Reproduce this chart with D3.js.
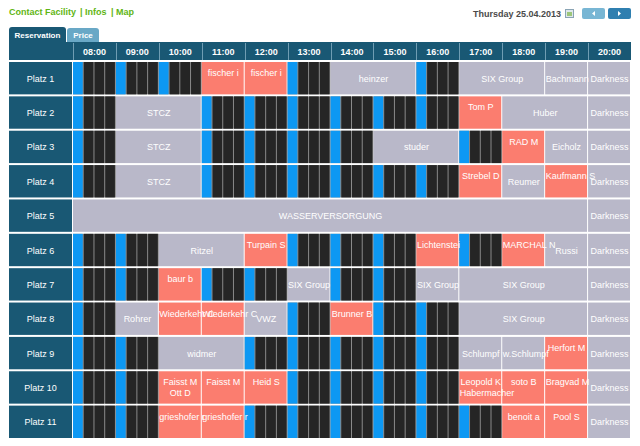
<!DOCTYPE html>
<meta charset="utf-8">
<style>
body { margin: 0; background: #fff; font-family: 'Liberation Sans', Arial, sans-serif; }
svg { display: block; }
.lnk { font-size: 9px; font-weight: bold; fill: #5fb514; }
.date { font-size: 9px; font-weight: bold; fill: #4a4a4a; }
.tab { font-size: 8px; font-weight: bold; fill: #fff; }
.hour { font-size: 9px; font-weight: bold; fill: #fff; }
.court { font-size: 9px; fill: #fff; }
.name { font-size: 9px; fill: #fff; }
</style>
<body>
<div id='plan'></div>
<script src="https://cdnjs.cloudflare.com/ajax/libs/d3/7.8.5/d3.min.js"></script>
<script>
var hours = ["08:00","09:00","10:00","11:00","12:00","13:00","14:00","15:00","16:00","17:00","18:00","19:00","20:00"];
var courts = ["Platz 1","Platz 2","Platz 3","Platz 4","Platz 5","Platz 6","Platz 7","Platz 8","Platz 9","Platz 10","Platz 11"];
var quarters = ["00","15","30","45"];
var darknessHour = "20:00";

// [court, start, hours, name]
var blockBookings = [
  ["Platz 1","14:00",2,"heinzer"],
  ["Platz 1","17:00",2,"SIX Group"],
  ["Platz 1","19:00",1,"Bachmann"],
  ["Platz 2","09:00",2,"STCZ"],
  ["Platz 2","18:00",2,"Huber"],
  ["Platz 3","09:00",2,"STCZ"],
  ["Platz 3","15:00",2,"studer"],
  ["Platz 3","19:00",1,"Eicholz"],
  ["Platz 4","09:00",2,"STCZ"],
  ["Platz 4","18:00",1,"Reumer"],
  ["Platz 5","08:00",12,"WASSERVERSORGUNG"],
  ["Platz 6","10:00",2,"Ritzel"],
  ["Platz 6","19:00",1,"Russi"],
  ["Platz 7","13:00",1,"SIX Group"],
  ["Platz 7","16:00",1,"SIX Group"],
  ["Platz 7","17:00",3,"SIX Group"],
  ["Platz 8","09:00",1,"Rohrer"],
  ["Platz 8","12:00",1,"VWZ"],
  ["Platz 8","17:00",3,"SIX Group"],
  ["Platz 9","10:00",2,"widmer"],
  ["Platz 9","17:00",1,"Schlumpf"],
  ["Platz 9","18:00",1,"w.Schlumpf"]
];

var memberBookings = [
  ["Platz 1","11:00",1,"fischer i"],
  ["Platz 1","12:00",1,"fischer i"],
  ["Platz 2","17:00",1,"Tom P"],
  ["Platz 3","18:00",1,"RAD M"],
  ["Platz 4","17:00",1,"Strebel D"],
  ["Platz 4","19:00",1,"Kaufmann S"],
  ["Platz 6","12:00",1,"Turpain S"],
  ["Platz 6","16:00",1,"Lichtenstei"],
  ["Platz 6","18:00",1,"MARCHAL N"],
  ["Platz 7","10:00",1,"baur b"],
  ["Platz 8","10:00",1,"Wiederkehr C"],
  ["Platz 8","11:00",1,"Wiederkehr C"],
  ["Platz 8","14:00",1,"Brunner B"],
  ["Platz 9","19:00",1,"Herfort M"],
  ["Platz 10","10:00",1,"Faisst M\nOtt D"],
  ["Platz 10","11:00",1,"Faisst M"],
  ["Platz 10","12:00",1,"Heid S"],
  ["Platz 10","17:00",1,"Leopold K\nHabermacher"],
  ["Platz 10","18:00",1,"soto B"],
  ["Platz 10","19:00",1,"Bragvad M"],
  ["Platz 11","10:00",1,"grieshofer r"],
  ["Platz 11","11:00",1,"grieshofer r"],
  ["Platz 11","18:00",1,"benoit a"],
  ["Platz 11","19:00",1,"Pool S"]
];

var C = {
  teal: '#195874', tabLight: '#69a8c6', block: '#b9b8c9', member: '#fb7d6f',
  blue: '#0d98f3', dark: '#252525', gap: '#8a8a8a', line: '#6f9db3'
};

var svg = d3.select('#plan').append('svg')
  .attr('width', 640)
  .attr('height', 446);

var x = d3.scaleBand().domain(hours).range([73, 631]);
var y = d3.scaleBand().domain(courts).range([61, 439]);
var q = d3.scaleBand().domain(quarters).range([0, x.bandwidth()]);

// top links
var links = [["Contact Facility", 9], ["| Infos", 80], ["| Map", 111]];
svg.selectAll('.lnk').data(links).enter().append('text')
  .attr('class', 'lnk')
  .attr('x', function(d) { return d[1]; })
  .attr('y', 15)
  .text(function(d) { return d[0]; });

svg.append('text').attr('class', 'date')
  .attr('x', 561).attr('y', 17)
  .attr('text-anchor', 'end')
  .text('Thursday 25.04.2013');

// calendar icon
svg.append('rect').attr('x', 565.5).attr('y', 9.5).attr('width', 8).attr('height', 8)
  .attr('fill', '#dfe8ec').attr('stroke', '#8aa4b4');
svg.append('rect').attr('x', 567).attr('y', 12).attr('width', 5).attr('height', 4).attr('fill', '#9cc67a');

// nav buttons
var buttons = [[582, '#78b6d4', -1], [608, '#2f7fb0', 1]];
buttons.forEach(function(b) {
  svg.append('rect').attr('x', b[0]).attr('y', 8).attr('width', 23).attr('height', 11)
    .attr('rx', 2).attr('fill', b[1]);
  var cx = b[0] + 11.5;
  svg.append('path')
    .attr('d', b[2] < 0
      ? 'M' + (cx + 1.5) + ',11 L' + (cx - 1.5) + ',13.5 L' + (cx + 1.5) + ',16 Z'
      : 'M' + (cx - 1.5) + ',11 L' + (cx + 1.5) + ',13.5 L' + (cx - 1.5) + ',16 Z')
    .attr('fill', '#fff');
});

// tabs
svg.append('path').attr('d', 'M67,42 V31 Q67,28 70,28 H96 Q99,28 99,31 V42 Z').attr('fill', C.tabLight);
svg.append('text').attr('class', 'tab').attr('x', 83).attr('y', 38).attr('text-anchor', 'middle').text('Price');
svg.append('path').attr('d', 'M9,42 V30 Q9,27 12,27 H63 Q66,27 66,30 V42 Z').attr('fill', C.teal);
svg.append('text').attr('class', 'tab').attr('x', 37.5).attr('y', 38).attr('text-anchor', 'middle').text('Reservation');

// header
svg.append('rect').attr('x', 9).attr('y', 42).attr('width', 622).attr('height', 18).attr('fill', C.teal);
svg.selectAll('.hsep').data(hours).enter().append('line')
  .attr('x1', function(d) { return Math.round(x(d)) + 0.5; })
  .attr('x2', function(d) { return Math.round(x(d)) + 0.5; })
  .attr('y1', 43).attr('y2', 60)
  .attr('stroke', C.line);
svg.selectAll('.hour').data(hours).enter().append('text')
  .attr('class', 'hour')
  .attr('x', function(d) { return x(d) + x.bandwidth() / 2; })
  .attr('y', 55)
  .attr('text-anchor', 'middle')
  .text(function(d) { return d; });

// court labels
svg.selectAll('.courtbg').data(courts).enter().append('rect')
  .attr('x', 9).attr('y', function(d) { return y(d) + 1; })
  .attr('width', 63).attr('height', y.bandwidth() - 2)
  .attr('fill', C.teal);
svg.selectAll('.court').data(courts).enter().append('text')
  .attr('class', 'court')
  .attr('x', 40.5)
  .attr('y', function(d) { return y(d) + y.bandwidth() / 2 + 3.5; })
  .attr('text-anchor', 'middle')
  .text(function(d) { return d; });

// bookings
var bookings = blockBookings.map(function(b) { return {court: b[0], start: b[1], span: b[2], name: b[3], kind: 'block'}; })
  .concat(courts.map(function(c) { return {court: c, start: darknessHour, span: 1, name: 'Darkness', kind: 'block'}; }))
  .concat(memberBookings.map(function(b) { return {court: b[0], start: b[1], span: b[2], name: b[3], kind: 'member'}; }));

var taken = {};
bookings.forEach(function(b) {
  var i0 = hours.indexOf(b.start);
  for (var k = 0; k < b.span; k++) taken[b.court + '|' + hours[i0 + k]] = true;
});

var free = [];
courts.forEach(function(c) {
  hours.forEach(function(h) { if (!taken[c + '|' + h]) free.push({court: c, hour: h}); });
});

// free hours: four quarter slots, the first one blue
svg.selectAll('.freebg').data(free).enter().append('rect')
  .attr('x', function(d) { return x(d.hour); })
  .attr('y', function(d) { return y(d.court) + 1; })
  .attr('width', x.bandwidth())
  .attr('height', y.bandwidth() - 2)
  .attr('fill', C.gap);

var slots = [];
free.forEach(function(f) { quarters.forEach(function(m) { slots.push({court: f.court, hour: f.hour, q: m}); }); });
svg.selectAll('.slot').data(slots).enter().append('rect')
  .attr('x', function(d) { return x(d.hour) + q(d.q); })
  .attr('y', function(d) { return y(d.court) + 1; })
  .attr('width', q.bandwidth() - 1)
  .attr('height', y.bandwidth() - 2)
  .attr('fill', function(d) { return d.q === '00' ? C.blue : C.dark; });

svg.selectAll('.booking').data(bookings).enter().append('rect')
  .attr('x', function(d) { return x(d.start); })
  .attr('y', function(d) { return y(d.court) + 1; })
  .attr('width', function(d) { return x.bandwidth() * d.span - 1; })
  .attr('height', y.bandwidth() - 2)
  .attr('fill', function(d) { return d.kind === 'member' ? C.member : C.block; });

// names: member names sit at the top of the cell, block names in the middle
bookings.forEach(function(b) {
  var x0 = x(b.start), w = x.bandwidth() * b.span;
  var lines = b.name.split('\n');
  lines.forEach(function(line, i) {
    var top = y(b.court) + 1;
    var ty = b.kind === 'member' ? top + 14 + i * 11 : top + (y.bandwidth() - 2) / 2 + 3.5;
    var t = svg.append('text').attr('class', 'name')
      .attr('y', ty)
      .text(line);
    var len = t.node().getComputedTextLength();
    if (len > w - 1) {
      t.attr('x', x0 + 0.5).attr('text-anchor', 'start');
    } else {
      t.attr('x', x0 + w / 2).attr('text-anchor', 'middle');
    }
  });
});
</script>
</body>
